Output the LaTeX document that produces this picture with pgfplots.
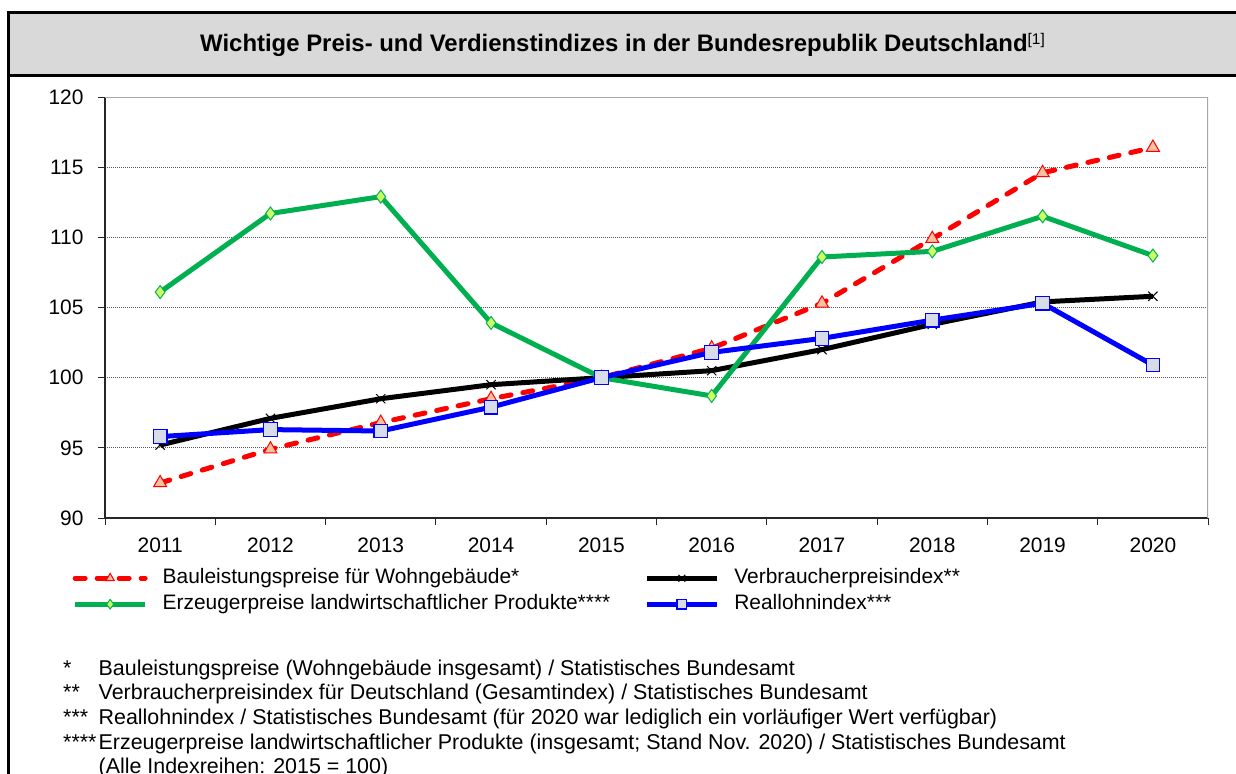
\documentclass[border=0pt]{standalone}
\usepackage{pgfplots}
\pgfplotsset{compat=1.18}
\usepackage{fontspec}
\setmainfont{Liberation Sans}
\definecolor{cGreen}{RGB}{0,176,80}
\definecolor{cGreenFill}{RGB}{204,255,102}
\definecolor{cRed}{RGB}{255,0,0}
\definecolor{cRedFill}{RGB}{250,192,160}
\definecolor{cBlue}{RGB}{0,0,255}
\definecolor{cBlueFill}{RGB}{216,220,232}
\definecolor{band}{RGB}{217,217,217}
\newcommand{\fs}{\fontsize{21}{25}\selectfont}
\newcommand{\ff}{\fontsize{21.5}{25}\selectfont}
\begin{document}
\begin{tikzpicture}
\useasboundingbox (0bp,-774bp) rectangle (1236bp,0bp);
\fill[band] (8bp,-12bp) rectangle (1245bp,-75bp);
\draw[line width=3bp] (8bp,-790bp) -- (8bp,-12bp) -- (1245bp,-12bp);
\draw[line width=3bp] (8bp,-75bp) -- (1245bp,-75bp);
\node[font=\fontsize{24}{28}\bfseries\selectfont, inner sep=0, anchor=base west] at (200bp,-51bp) {Wichtige Preis- und Verdienstindizes in der Bundesrepublik Deutschland\raisebox{7bp}{\fontsize{15.5}{16}\mdseries\selectfont[1]}};
\begin{axis}[
  at={(105bp,-518bp)}, anchor=south west, scale only axis,
  width=1103bp, height=421bp,
  xmin=-0.5, xmax=9.5, ymin=90, ymax=120,
  axis lines=left, axis line style={-, line width=1.2bp, black!85},
  xtick={0,1,2,3,4,5,6,7,8,9},
  xticklabels={2011,2012,2013,2014,2015,2016,2017,2018,2019,2020},
  major x tick style={draw=none},
  minor xtick={-0.5,0.5,1.5,2.5,3.5,4.5,5.5,6.5,7.5,8.5,9.5},
  minor tick length=7bp, major tick length=7bp,
  tick align=outside,
  tick style={line width=1bp, black!85},
  ytick={90,95,100,105,110,115,120},
  /pgf/number format/assume math mode=true,
  xticklabel style={font=\fs, yshift=-9bp},
  yticklabel style={font=\fs, xshift=-11bp},
  ymajorgrids,
  major grid style={dash pattern=on 1bp off 1bp, line width=1bp, black!65},
  legend columns=2,
  legend cell align=left,
  legend image code/.code={\draw[mark repeat=2,mark phase=2, mark size=4.8bp] plot coordinates {(0bp,0bp) (35bp,0bp) (70bp,0bp)};},
  legend style={at={(axis description cs:-0.0295,-0.1164)}, anchor=north west, draw=none, fill=none, inner sep=0pt, font=\fs,
    nodes={inner sep=1bp, text height=15bp, text depth=5bp},
    row sep=4bp,
    /tikz/every odd column/.append style={column sep=14bp},
    /tikz/every even column/.append style={column sep=33bp}},
]
\addplot[cRed, line width=5bp, line cap=round, dash pattern=on 10bp off 12bp, mark=triangle*, mark size=7.5bp,
  mark options={solid, fill=cRedFill, draw=cRed, line width=1bp}]
  coordinates {(0,92.5) (1,94.9) (2,96.8) (3,98.5) (4,100) (5,102.1) (6,105.3) (7,109.9) (8,114.6) (9,116.4)};
\addlegendentry{Bauleistungspreise für Wohngebäude*}
\addplot[black, line width=5bp, mark=x, mark size=6.5bp, mark options={line width=1bp}]
  coordinates {(0,95.2) (1,97.1) (2,98.5) (3,99.5) (4,100) (5,100.5) (6,102.0) (7,103.8) (8,105.4) (9,105.8)};
\addlegendentry{Verbraucherpreisindex**}
\addplot[cGreen, line width=5bp, mark=diamond*, mark size=6.5bp,
  mark options={fill=cGreenFill, draw=cGreen, line width=1bp}]
  coordinates {(0,106.1) (1,111.7) (2,112.9) (3,103.9) (4,100) (5,98.7) (6,108.6) (7,109.0) (8,111.5) (9,108.7)};
\addlegendentry{Erzeugerpreise landwirtschaftlicher Produkte****}
\addplot[cBlue, line width=5bp, mark=square*, mark size=6.8bp,
  mark options={fill=cBlueFill, draw=cBlue, line width=1.2bp}]
  coordinates {(0,95.8) (1,96.3) (2,96.2) (3,97.9) (4,100) (5,101.8) (6,102.8) (7,104.1) (8,105.3) (9,100.9)};
\addlegendentry{Reallohnindex***}
\draw[black!35, line width=2bp] (rel axis cs:0,1) -- (rel axis cs:1,1) -- (rel axis cs:1,0);
\end{axis}
\begin{scope}[every node/.style={anchor=base west, inner sep=0, font=\ff}]
\node at (63bp,-675bp) {*};
\node at (98.5bp,-675bp) {Bauleistungspreise (Wohngebäude insgesamt) / Statistisches Bundesamt};
\node at (63bp,-699.7bp) {**};
\node at (98.5bp,-699.7bp) {Verbraucherpreisindex für Deutschland (Gesamtindex) / Statistisches Bundesamt};
\node at (63bp,-724.4bp) {***};
\node at (98.5bp,-724.4bp) {Reallohnindex / Statistisches Bundesamt (für 2020 war lediglich ein vorläufiger Wert verfügbar)};
\node at (63bp,-749bp) {****};
\node at (98.5bp,-749bp) {Erzeugerpreise landwirtschaftlicher Produkte (insgesamt; Stand Nov. 2020) / Statistisches Bundesamt};
\node at (98.5bp,-773.8bp) {(Alle Indexreihen: 2015 = 100)};
\end{scope}
\end{tikzpicture}
\end{document}
